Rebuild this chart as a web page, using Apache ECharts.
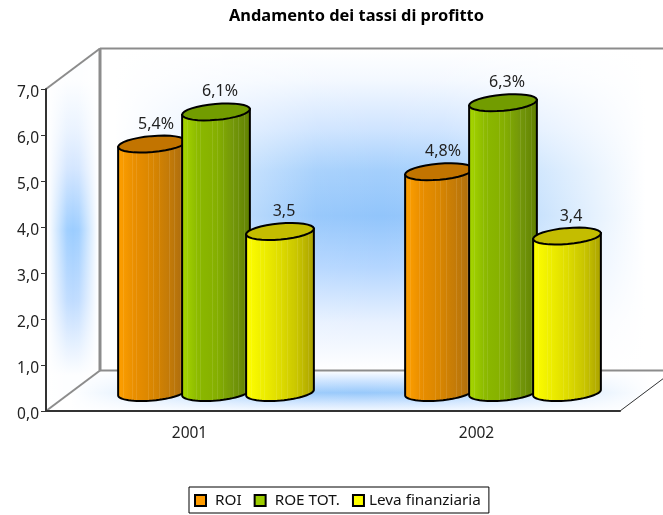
<!DOCTYPE html>
<html>
<head>
<meta charset="utf-8">
<style>
  html, body { margin: 0; padding: 0; background: #fff; }
  #chart { width: 663px; height: 515px; }
</style>
<script src="https://cdn.jsdelivr.net/npm/echarts@6/dist/echarts.min.js"></script>
</head>
<body>
<div id="chart"></div>
<script>
const categories = ['2001', '2002']
const yTickLabels = ['0,0', '1,0', '2,0', '3,0', '4,0', '5,0', '6,0', '7,0']

const roiValues = [5.4, 4.8]
const roeValues = [6.1, 6.3]
const levaValues = [3.5, 3.4]
const roiLabels = ['5,4%', '4,8%']
const roeLabels = ['6,1%', '6,3%']
const levaLabels = ['3,5', '3,4']

const fontFamily = '"Noto Sans", "DejaVu Sans", sans-serif'
const stripes = [0.05, 0.09, 0.22, 0.27, 0.44, 0.52, 0.6, 0.68, 0.74, 0.82, 0.9]

// depth of the 3d box, in pixels
const depthX = 54
const depthY = -40.5
const barDepthX = 26.5
const barDepthY = -18.5
const barStep = 64
const barRx = 34
const barRy = 8
const tilt = 5 * Math.PI / 180

function ellipsePoint(cx, cy, t) {
  const x = barRx * Math.cos(t)
  const y = barRy * Math.sin(t)
  return [
    cx + x * Math.cos(tilt) + y * Math.sin(tilt),
    cy - x * Math.sin(tilt) + y * Math.cos(tilt),
  ]
}

function arc(cx, cy, from, to) {
  const pts = []
  for (let i = 0; i <= 32; i++) {
    pts.push(ellipsePoint(cx, cy, from + (to - from) * i / 32))
  }
  return pts
}

function barGradient(colors) {
  const stops = []
  for (let i = 0; i < stripes.length; i++) {
    const o = stripes[i]
    const c = echarts.color.lerp(o, colors)
    const light = echarts.color.lift(c, 0.1)
    stops.push({ offset: o, color: c }, { offset: o, color: light })
    stops.push({ offset: o + 0.012, color: light }, { offset: o + 0.012, color: c })
  }
  stops.unshift({ offset: 0, color: colors[0] })
  stops.push({ offset: 1, color: colors[colors.length - 1] })
  return new echarts.graphic.LinearGradient(0, 0, 1, 0, stops)
}

function cylinderSeries(name, values, labels, index, colors, topColor, legendColor) {
  const fill = barGradient(colors)
  return {
    name,
    type: 'custom',
    clip: false,
    encode: { x: 0, y: 1 },
    data: values.map((v, i) => [i, v]),
    itemStyle: { color: legendColor },
    renderItem(params, api) {
      const top = api.coord([api.value(0), api.value(1)])
      const base = api.coord([api.value(0), 0])
      const cx = top[0] + barDepthX + (index - 1) * barStep
      const yTop = top[1] + barDepthY
      const yBase = base[1] + barDepthY
      const body = arc(cx, yBase, Math.PI, 0)
      body.unshift(ellipsePoint(cx, yTop, Math.PI))
      body.push(ellipsePoint(cx, yTop, 0))
      return {
        type: 'group',
        children: [
          {
            type: 'polygon',
            shape: { points: body },
            style: { fill, stroke: '#000', lineWidth: 2 },
          },
          {
            type: 'polygon',
            shape: { points: arc(cx, yTop, 0, 2 * Math.PI) },
            style: { fill: topColor, stroke: '#000', lineWidth: 2 },
          },
          {
            type: 'text',
            z2: 10,
            style: {
              x: cx + 4,
              y: yTop - 20,
              text: labels[params.dataIndex],
              fill: '#222',
              font: '16px ' + fontFamily,
              align: 'center',
              verticalAlign: 'middle',
            },
          },
        ],
      }
    },
  }
}

// soft blue glow on one face of the box: a vertical blue fade with a
// horizontal white fade over it, which gives the star shaped contours
function wall(points, x0, x1, y0, y1, ramp) {
  const blue = ramp.map((r) => ({ offset: r[0], color: r[1] }))
  const veil = [
    { offset: 0, color: 'rgba(255,255,255,1)' },
    { offset: 0.38, color: 'rgba(255,255,255,0.06)' },
    { offset: 0.5, color: 'rgba(255,255,255,0)' },
    { offset: 0.62, color: 'rgba(255,255,255,0.06)' },
    { offset: 1, color: 'rgba(255,255,255,1)' },
  ]
  return [
    {
      type: 'polygon',
      silent: true,
      shape: { points },
      style: { fill: new echarts.graphic.LinearGradient(0, y0, 0, y1, blue, true) },
    },
    {
      type: 'polygon',
      silent: true,
      shape: { points },
      style: { fill: new echarts.graphic.LinearGradient(x0, 0, x1, 0, veil, true) },
    },
  ]
}

function edge(x1, y1, x2, y2, color, width) {
  return {
    type: 'line',
    silent: true,
    shape: { x1, y1, x2, y2 },
    style: { stroke: color, lineWidth: width || 2 },
  }
}

const gridLeft = 46
const gridRight = 620
const gridTop = 89
const gridBottom = 411
const backLeft = gridLeft + depthX
const backTop = gridTop + depthY
const backBottom = gridBottom + depthY

const backRamp = [
  [0, '#ffffff'], [0.1, '#f3f8ff'], [0.25, '#cfe4ff'], [0.38, '#a4cffc'],
  [0.52, '#92c5fb'], [0.68, '#b4d6ff'], [0.85, '#e8f1ff'], [1, '#ffffff'],
]
const sideRamp = [
  [0, '#fdfeff'], [0.17, '#eaf3ff'], [0.3, '#d4e6ff'], [0.51, '#9ccdff'],
  [0.75, '#c0dcff'], [0.91, '#e8f2ff'], [1, '#fdfeff'],
]
const floorRamp = [
  [0, '#ffffff'], [0.25, '#cfe5ff'], [0.55, '#98c9fb'], [0.8, '#cfe5ff'], [1, '#f4f9ff'],
]

const chart = echarts.init(document.getElementById('chart'), null, { renderer: 'canvas' })
chart.setOption({
  animation: false,
  backgroundColor: '#fff',
  title: {
    text: 'Andamento dei tassi di profitto',
    left: 229,
    top: 8,
    padding: 0,
    textStyle: { fontFamily, fontSize: 16.4, fontWeight: 'bold', color: '#000' },
  },
  legend: {
    left: 189,
    top: 487,
    padding: [6, 8, 5, 5],
    itemGap: 12,
    itemWidth: 11,
    itemHeight: 11,
    icon: 'rect',
    borderColor: '#000',
    borderWidth: 1,
    itemStyle: { borderColor: '#000', borderWidth: 2 },
    textStyle: { fontFamily, fontSize: 15.3, color: '#111' },
    data: [
      { name: 'ROI', textStyle: { padding: [0, 0, 0, 4] } },
      { name: 'ROE TOT.', textStyle: { padding: [0, 0, 0, 4] } },
      { name: 'Leva finanziaria' },
    ],
  },
  grid: { left: gridLeft, top: gridTop, right: 663 - gridRight, bottom: 515 - gridBottom },
  xAxis: {
    type: 'category',
    data: categories,
    axisLine: { lineStyle: { color: '#333', width: 2 } },
    axisTick: { length: 6, lineStyle: { color: '#333', width: 1 } },
    axisLabel: { fontFamily, fontSize: 15.5, color: '#222', margin: 15 },
  },
  yAxis: {
    type: 'value',
    min: 0,
    max: 7,
    interval: 1,
    splitLine: { show: false },
    axisLine: { show: true, lineStyle: { color: '#333', width: 2 } },
    axisTick: { show: true, length: 5, lineStyle: { color: '#333', width: 1 } },
    axisLabel: {
      margin: 7,
      formatter: (value) => `{t|${yTickLabels[value]}}`,
      rich: {
        t: { fontFamily, fontSize: 15.5, color: '#222', padding: [7, 0, 0, 0] },
      },
    },
  },
  graphic: {
    elements: [
      ...wall(
        [[backLeft, backTop], [663, backTop], [663, backBottom], [backLeft, backBottom]],
        115, 645, backTop, backBottom, backRamp
      ),
      ...wall(
        [[gridLeft, gridTop], [backLeft, backTop], [backLeft, backBottom], [gridLeft, gridBottom]],
        48, 98, 80, 375, sideRamp
      ),
      ...wall(
        [[gridLeft, gridBottom], [gridRight, gridBottom], [gridRight + depthX, backBottom], [backLeft, backBottom]],
        70, 650, backBottom, gridBottom, floorRamp
      ),
      edge(backLeft, backTop, 663, backTop, '#8c8c8c'),
      edge(backLeft, backTop, backLeft, backBottom, '#8c8c8c', 3),
      edge(backLeft, backBottom, 663, backBottom, '#8c8c8c'),
      edge(gridLeft, gridTop, backLeft, backTop, '#8c8c8c'),
      edge(gridLeft, gridBottom, backLeft, backBottom, '#8c8c8c'),
      edge(gridRight, gridBottom, gridRight + depthX, backBottom, '#333', 1),
    ],
  },
  series: [
    cylinderSeries('ROI', roiValues, roiLabels, 0,
      ['#ffa000', '#e88e00', '#d98600', '#c27a08', '#a86a10'], '#c27400', '#ff9c00'),
    cylinderSeries('ROE TOT.', roeValues, roeLabels, 1,
      ['#a8d800', '#8ab800', '#86b000', '#72960a', '#5f7f00'], '#729c00', '#9ccc00'),
    cylinderSeries('Leva finanziaria', levaValues, levaLabels, 2,
      ['#ffff00', '#eeee00', '#dedc00', '#c8c400', '#a8a000'], '#c4bd00', '#ffff00'),
  ],
})
</script>
</body>
</html>
